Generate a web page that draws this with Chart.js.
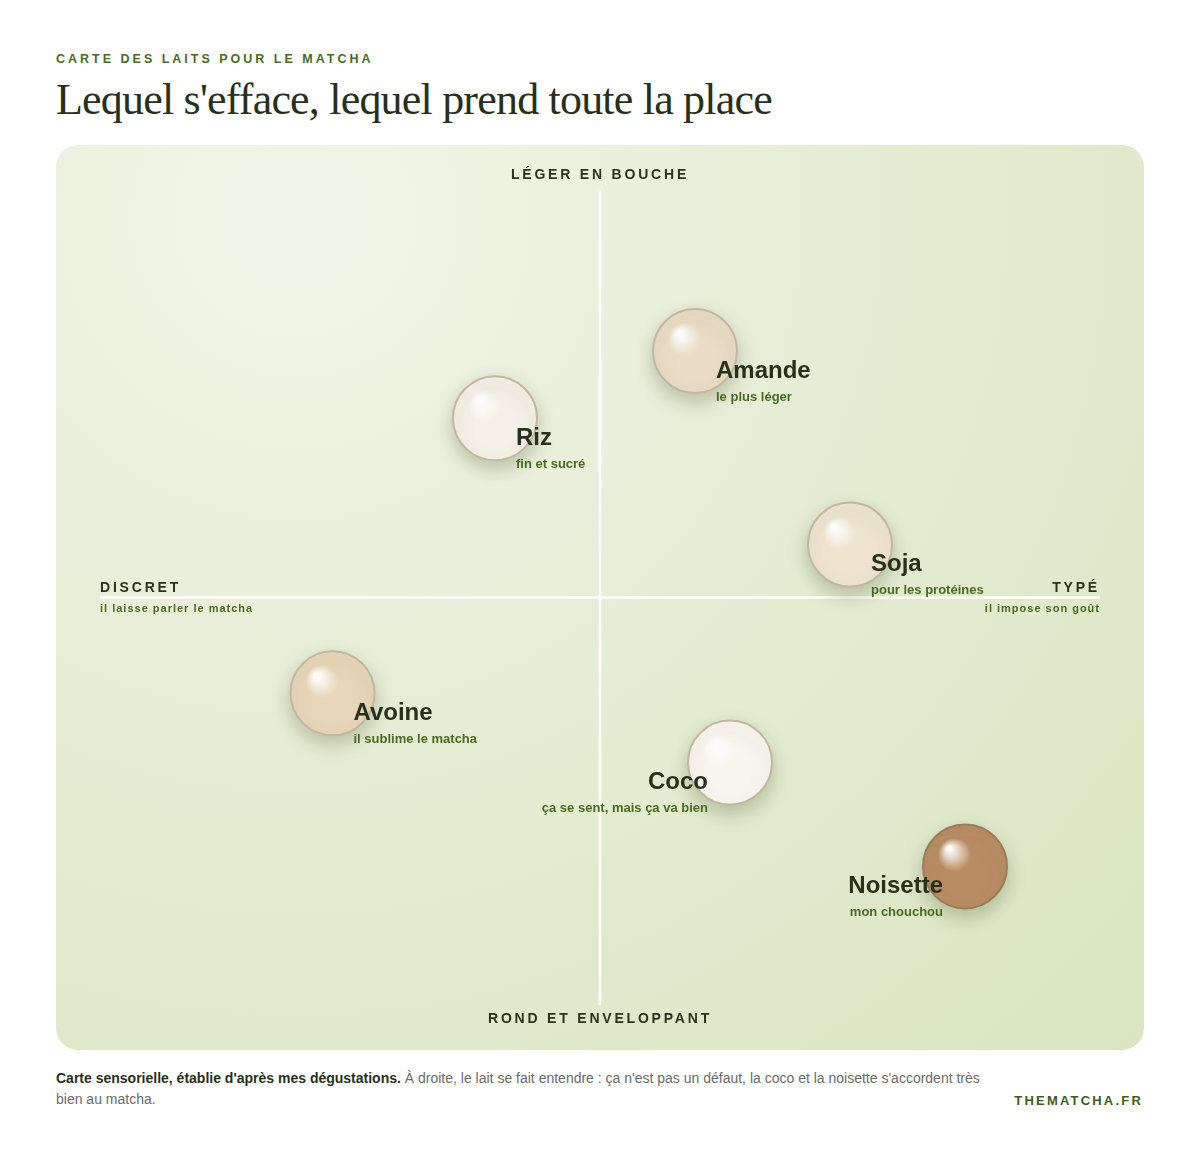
<!DOCTYPE html>
<html><head><meta charset="utf-8">
<script src="https://cdn.jsdelivr.net/npm/chart.js@4.4.1/dist/chart.umd.min.js"></script>
<style>
body{margin:0;background:#fff;font-family:"Liberation Sans",Arial,sans-serif;}
.wrap{position:relative;width:1200px;height:1150px;}
.kicker{position:absolute;left:56px;top:52px;font-size:12.5px;font-weight:bold;letter-spacing:3px;color:#4a6b1e;}
h1{position:absolute;left:56px;top:74px;margin:0;font-family:"Liberation Serif",serif;font-weight:normal;font-size:44px;letter-spacing:-0.8px;color:#27301a;}
.panel{position:absolute;left:56px;top:145px;width:1088px;height:905px;border-radius:22px;overflow:hidden;
 background:radial-gradient(ellipse at 22% 8%,#f1f5e8 0%,#e6edd5 45%,#d9e5c0 100%);}
.note{position:absolute;left:56px;top:1068px;width:940px;font-size:14px;line-height:21px;color:#6b6b66;}
.note b{color:#26301a;}
.brand{position:absolute;right:57px;top:1093px;font-size:13px;font-weight:bold;letter-spacing:2.2px;color:#3f5d17;}
</style></head><body>
<div class="wrap">
<div class="kicker">CARTE DES LAITS POUR LE MATCHA</div>
<h1>Lequel s'efface, lequel prend toute la place</h1>
<div class="panel"><canvas id="map" width="1088" height="905"></canvas></div>
<div class="note"><b>Carte sensorielle, établie d'après mes dégustations.</b> À droite, le lait se fait entendre : ça n'est pas un défaut, la coco et la noisette s'accordent très bien au matcha.</div>
<div class="brand">THEMATCHA.FR</div>
</div>
<script>
// laits : x = discret -> typé, y = rond -> léger
const milks = ['Amande', 'Riz', 'Soja', 'Avoine', 'Coco', 'Noisette'];
const notes = ['le plus léger', 'fin et sucré', 'pour les protéines', 'il sublime le matcha', 'ça se sent, mais ça va bien', 'mon chouchou'];
const typeScore = [1.9, -2.1, 5.0, -5.35, 2.6, 7.3];
const lightScore = [6.05, 4.4, 1.3, -2.35, -4.05, -6.6];
const milkColors = ['#e9dcc4', '#f4f0e7', '#eee4d0', '#e7d6b7', '#f8f5ef', '#b98d63'];
const labelRight = [false, false, false, false, true, true];

const points = milks.map((m, i) => ({x: typeScore[i], y: lightScore[i]}));

const decor = {
  id: 'decor',
  beforeDatasetsDraw(chart) {
    const {ctx, scales: {x, y}} = chart;
    const x0 = x.getPixelForValue(0), y0 = y.getPixelForValue(0);
    ctx.save();
    ctx.strokeStyle = '#ffffff';
    ctx.lineWidth = 2.5;
    ctx.beginPath();
    ctx.moveTo(x0, y.getPixelForValue(10)); ctx.lineTo(x0, y.getPixelForValue(-10));
    ctx.moveTo(x.getPixelForValue(-10), y0); ctx.lineTo(x.getPixelForValue(10), y0);
    ctx.stroke();
    ctx.fillStyle = '#2a331c';
    ctx.font = 'bold 14px "Liberation Sans", Arial';
    ctx.letterSpacing = '2.8px';
    ctx.textAlign = 'center';
    ctx.textBaseline = 'middle';
    ctx.fillText('LÉGER EN BOUCHE', x0, 30);
    ctx.fillText('ROND ET ENVELOPPANT', x0, 874);
    ctx.textAlign = 'left';
    ctx.fillText('DISCRET', x.getPixelForValue(-10), y0 - 9);
    ctx.textAlign = 'right';
    ctx.fillText('TYPÉ', x.getPixelForValue(10), y0 - 9);
    ctx.font = 'bold 11px "Liberation Sans", Arial';
    ctx.letterSpacing = '1px';
    ctx.fillStyle = '#4a6b1e';
    ctx.textAlign = 'left';
    ctx.fillText('il laisse parler le matcha', x.getPixelForValue(-10), y0 + 11);
    ctx.textAlign = 'right';
    ctx.fillText('il impose son goût', x.getPixelForValue(10), y0 + 11);
    ctx.restore();
    // shaded fill per bubble, from the element's own position
    const meta = chart.getDatasetMeta(0);
    meta.data.forEach((pt, i) => {
      const g = ctx.createRadialGradient(pt.x - 16, pt.y - 18, 2, pt.x, pt.y, 44);
      g.addColorStop(0, '#ffffff');
      g.addColorStop(0.35, milkColors[i]);
      g.addColorStop(1, milkColors[i]);
      pt.options.backgroundColor = g;
    });
    ctx.save();
    ctx.shadowColor = 'rgba(70,80,40,0.28)';
    ctx.shadowBlur = 18;
    ctx.shadowOffsetY = 8;
  },
  afterDatasetsDraw(chart) {
    const {ctx} = chart;
    ctx.restore();
    const meta = chart.getDatasetMeta(0);
    ctx.save();
    ctx.textBaseline = 'middle';
    meta.data.forEach((pt, i) => {
      const right = labelRight[i];
      const lx = right ? pt.x - 22 : pt.x + 21;
      ctx.textAlign = right ? 'right' : 'left';
      ctx.fillStyle = '#26301a';
      ctx.font = 'bold 24px "Liberation Sans", Arial';
      ctx.fillText(milks[i], lx, pt.y + 20);
      ctx.fillStyle = '#4a6b1e';
      ctx.font = 'bold 13px "Liberation Sans", Arial';
      ctx.fillText(notes[i], lx, pt.y + 46);
    });
    ctx.restore();
  }
};

new Chart(document.getElementById('map'), {
  type: 'scatter',
  data: {datasets: [{
    data: points,
    pointRadius: 42,
    pointHoverRadius: 42,
    pointBorderWidth: 2,
    pointBorderColor: milks.map((m, i) => i === 5 ? '#9b7a56' : '#c2b7a0'),
    pointBackgroundColor: milkColors
  }]},
  options: {
    responsive: false,
    animation: false,
    layout: {padding: {left: 26, right: 26, top: 45, bottom: 45}},
    scales: {
      x: {display: false, min: -10, max: 10},
      y: {display: false, min: -10, max: 10}
    },
    plugins: {legend: {display: false}, tooltip: {enabled: false}}
  },
  plugins: [decor]
});
</script>
</body></html>
